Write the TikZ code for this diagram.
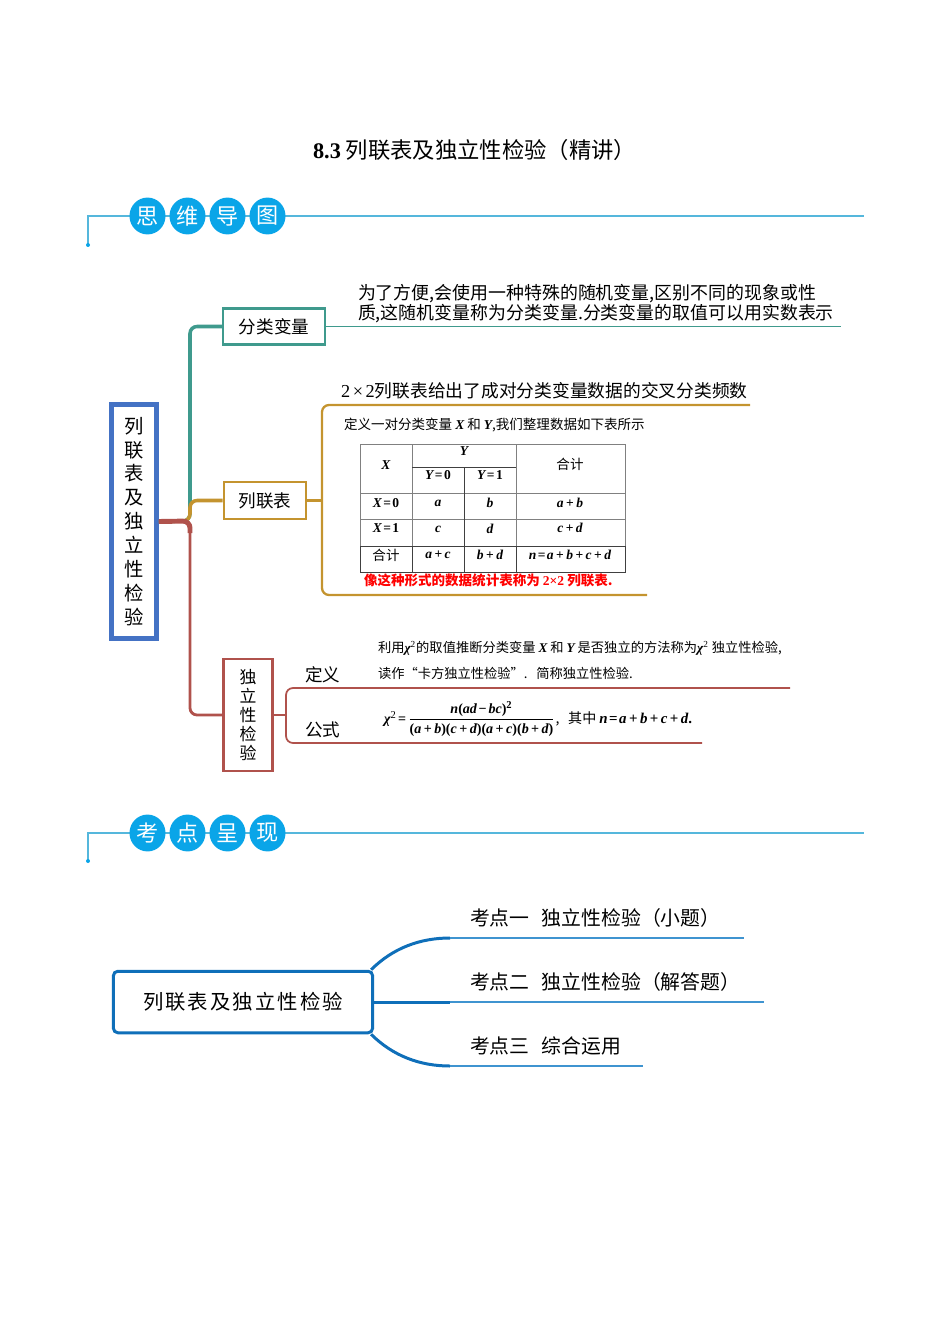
\documentclass[tikz,border=0pt]{standalone}
\usepackage{amsmath}
\usepackage{fontspec}
\usepackage{xcolor}
\setmainfont{Noto Sans CJK SC}
\newfontfamily\latfont{Liberation Serif}
\newcommand{\fs}[2]{\fontsize{#1}{#2}\selectfont}
\newcommand{\bi}[1]{{\latfont\bfseries\itshape #1}}
\newcommand{\pl}{{\latfont\bfseries\kern1.4pt+\kern1.4pt}}
\newcommand{\eq}{{\latfont\bfseries\kern.8pt=\kern.8pt}}
\definecolor{headblue}{HTML}{0AA5E8}
\definecolor{headline}{HTML}{55B7DC}
\definecolor{rootblue}{HTML}{4472C4}
\definecolor{tealbr}{HTML}{3F9A8D}
\definecolor{goldbr}{HTML}{C4942F}
\definecolor{redbr}{HTML}{B0524C}
\definecolor{topicblue}{HTML}{0F6FB9}
\definecolor{topicline}{HTML}{3F94D0}
\usetikzlibrary{calc}
\tikzset{
  plain/.style={inner sep=0pt, outer sep=0pt, text=black},
  headdot/.style={ellipse, fill=headblue, text=white, minimum width=20.5pt, minimum height=21pt, inner sep=0pt, font=\fs{12.6}{14}},
  headrule/.style={headline, line width=.7pt},
  box/.style={draw=#1, line width=1.3pt, fill=white, inner sep=0pt, text=black, align=center},
  cell/.style={plain, font=\fs{7.7}{9}},
  topic/.style={plain, anchor=west, font=\fs{11.3}{13}},
}
\usetikzlibrary{shapes.geometric}
\begin{document}
\begin{tikzpicture}[x=0.02cm, y=-0.02cm]
    \useasboundingbox (0,0) rectangle (950,1344);
    \node[plain, font=\fs{12.7}{14}] (title) at (474.5,150) {\textbf{\latfont 8.3} 列联表及独立性检验（精讲）};
    % first heading
    \coordinate (hl1) at (88,216);
    \coordinate (hr1) at (864,216);
    \coordinate (hd1) at (88,245);
    \draw[headrule] (hd1) -- (hl1) -- (hr1);
    \fill[headblue] (hd1) circle(2);
    \foreach \nm/\xx/\tx in {a/147.5/思, b/187.5/维, c/227.5/导, d/267.5/图}
        \node[headdot] (h1\nm) at (\xx,216) {\tx};
    % second heading
    \coordinate (hl2) at (88,833);
    \coordinate (hr2) at (864,833);
    \coordinate (hd2) at (88,861);
    \draw[headrule] (hd2) -- (hl2) -- (hr2);
    \fill[headblue] (hd2) circle(2);
    \foreach \nm/\xx/\tx in {a/147.5/考, b/187.5/点, c/227.5/呈, d/267.5/现}
        \node[headdot] (h2\nm) at (\xx,833) {\tx};
    % mind map
    \node[draw=rootblue, line width=2.8pt, fill=white, inner sep=0pt, minimum width=25.5pt, minimum height=133.5pt, align=center, font=\fs{11}{13.6}] (root) at (134,521.5) {\raisebox{1pt}{列}\\\raisebox{1pt}{联}\\\raisebox{1pt}{表}\\\raisebox{1pt}{及}\\\raisebox{1pt}{独}\\\raisebox{1pt}{立}\\\raisebox{1pt}{性}\\\raisebox{1pt}{检}\\\raisebox{1pt}{验}};
    \node[box=tealbr, minimum width=58pt, minimum height=20.5pt, font=\fs{10}{12}] (fenlei) at (274,326.5) {分类变量};
    \node[box=goldbr, minimum width=47pt, minimum height=21pt, font=\fs{10}{12}] (lielian) at (265,500.5) {列联表};
    \node[box=redbr, minimum width=28pt, minimum height=64pt, font=\fs{9.6}{10.8}] (duli) at (248,715) {独\\立\\性\\检\\验};
    \coordinate (trunk) at (190,521);
    \coordinate (fenend) at (841,326);
    \draw[tealbr, line width=2pt, rounded corners=4pt] (root.east) -- (trunk) |- (fenlei.west);
    \draw[tealbr, line width=1.1pt] (fenlei.east) -- (fenlei.east -| fenend);
    \draw[goldbr, line width=2pt, rounded corners=4pt] (root.east) -- (trunk) |- (lielian.west);
    \draw[redbr, line width=1.6pt, rounded corners=4pt] (root.east) -- (trunk) |- (duli.west);
    \draw[redbr, line width=2.8pt, rounded corners=4pt] (root.east) -- (trunk) -- (190,533);
    % gold bracket
    \coordinate (gt) at (750,405);
    \coordinate (gb) at (647,595);
    \coordinate (gm) at (322,500);
    \draw[goldbr, line width=1.3pt] (lielian.east) -- (lielian.east -| gm);
    \draw[goldbr, line width=1.3pt, rounded corners=4pt] (gt) -- (322,405) -- (322,595) -- (gb);
    % red bracket
    \coordinate (rt) at (790,688);
    \coordinate (rb) at (702,743);
    \coordinate (rm) at (286,716);
    \draw[redbr, line width=1pt] (duli.east) -- (duli.east -| rm);
    \draw[redbr, line width=1pt, rounded corners=4pt] (rt) -- (286,688) -- (286,743) -- (rb);
    % texts of the branches
    \node[plain, anchor=west, align=left, font=\fs{10.2}{10.4}] (fentx) at (358,303.5) {为了方便,会使用一种特殊的随机变量,区别不同的现象或性\\质,这随机变量称为分类变量.分类变量的取值可以用实数表示};
    \node[plain, anchor=west, font=\fs{10.1}{12}] (gtitle) at (341,391) {{\latfont\fs{10.4}{12}2\kern1.5pt×\kern1.5pt2}列联表给出了成对分类变量数据的交叉分类频数};
    \node[plain, anchor=west, font=\fs{7.7}{9}] (gsub) at (344,425) {定义一对分类变量 \bi{X} 和 \bi{Y},我们整理数据如下表所示};
    \node[plain, anchor=west, text=red, font=\fs{7.7}{9}\bfseries] (redtx) at (364,580) {像这种形式的数据统计表称为 {\latfont 2×2} 列联表.};
    % table
    \draw[gray, line width=.5pt] (360,444) rectangle (625,546);
    \draw[gray, line width=.5pt] (412,444) -- (412,546) (516,444) -- (516,546) (360,493) -- (625,493) (360,519) -- (625,519);
    \draw[black!75, line width=.45pt] (412,467) -- (516,467) (464,467) -- (464,572) (360,546) -- (625,546) (360,546) -- (360,572) -- (625,572) -- (625,546) (412,546) -- (412,572) (516,546) -- (516,572);
    \foreach \nm/\xx/\yy/\tx in {cx/386/465/\bi{X}, cy/464/451/\bi{Y}, cyo/438/475/\bi{Y}\eq{\latfont\bfseries 0}, cyi/490/475/\bi{Y}\eq{\latfont\bfseries 1}, ch/570/464/合计,
        ra/386/503/\bi{X}\eq{\latfont\bfseries 0}, raa/438/503/\bi{a}, rab/490/503/\bi{b}, rac/570/503/\bi{a}\pl\bi{b},
        rb/386/528/\bi{X}\eq{\latfont\bfseries 1}, rba/438/529/\bi{c}, rbb/490/529/\bi{d}, rbc/570/528/\bi{c}\pl\bi{d},
        rc/386/555/合计, rca/438/555/\bi{a}\pl\bi{c}, rcb/490/555/\bi{b}\pl\bi{d}, rcc/570/555/\bi{n}\eq\bi{a}\pl\bi{b}\pl\bi{c}\pl\bi{d}}
        \node[cell] (\nm) at (\xx,\yy) {\tx};
    % independence test
    \node[plain, anchor=west, font=\fs{10}{12}] (dingyi) at (305,675) {定义};
    \node[plain, anchor=west, font=\fs{10}{12}] (gongshi) at (305,730) {公式};
    \node[plain, anchor=west, font=\fs{7.55}{9}] (dua) at (378,648) {利用\bi{χ}\textsuperscript{\latfont 2}的取值推断分类变量 \bi{X} 和 \bi{Y} 是否独立的方法称为\bi{χ}\textsuperscript{\latfont 2} 独立性检验,};
    \node[plain, anchor=west, font=\fs{7.55}{9}] (dub) at (378,673) {读作“卡方独立性检验”.\hspace{5pt}简称独立性检验.};
    \node[plain, anchor=west, font=\fs{8}{9}] (fml) at (384,719) {\bi{χ}\textsuperscript{\latfont 2}\eq$\dfrac{\mbox{\fs{8}{9}\bi{n}{\latfont\bfseries(}\bi{ad}{\latfont\bfseries\kern1pt−\kern1pt}\bi{bc}{\latfont\bfseries)}\textsuperscript{\latfont\bfseries 2}}}{\mbox{\fs{8}{9}\latfont\bfseries(\bi{a}\pl\bi{b})(\bi{c}\pl\bi{d})(\bi{a}\pl\bi{c})(\bi{b}\pl\bi{d})}}$,\hspace{5pt}其中 {\fs{8.5}{9}\bi{n}\eq\bi{a}\pl\bi{b}\pl\bi{c}\pl\bi{d}{\latfont\bfseries.}}};
    % topics
    \node[draw=topicblue, line width=1.7pt, rounded corners=2.5pt, fill=white, minimum width=147.5pt, minimum height=35pt, inner sep=0pt, text=black, font=\fs{11.6}{13}\addfontfeature{LetterSpace=10}] (topics) at (243,1002) {列联表及独立性检验};
    \node[topic] (topa) at (470,918) {考点一\hspace{7pt}独立性检验（小题）};
    \node[topic] (topb) at (470,982) {考点二\hspace{7pt}独立性检验（解答题）};
    \node[topic] (topc) at (470,1046) {考点三\hspace{7pt}综合运用};
    \coordinate (ja) at (450,938);
    \coordinate (jb) at (450,1002);
    \coordinate (jc) at (450,1066);
    \coordinate (ea) at (744,938);
    \coordinate (eb) at (764,1002);
    \coordinate (ec) at (643,1066);
    \draw[topicblue, line width=1.7pt] ($(topics.north east)+(-3,0)$) .. controls (393,948) and (420,938) .. (ja);
    \draw[topicblue, line width=1.7pt] (topics.east) -- (jb);
    \draw[topicblue, line width=1.7pt] ($(topics.south east)+(-3,0)$) .. controls (393,1056) and (420,1066) .. (jc);
    \draw[topicline, line width=1.1pt] (ja) -- (ea);
    \draw[topicline, line width=1.1pt] (jb) -- (eb);
    \draw[topicline, line width=1.1pt] (jc) -- (ec);
\end{tikzpicture}
\end{document}
